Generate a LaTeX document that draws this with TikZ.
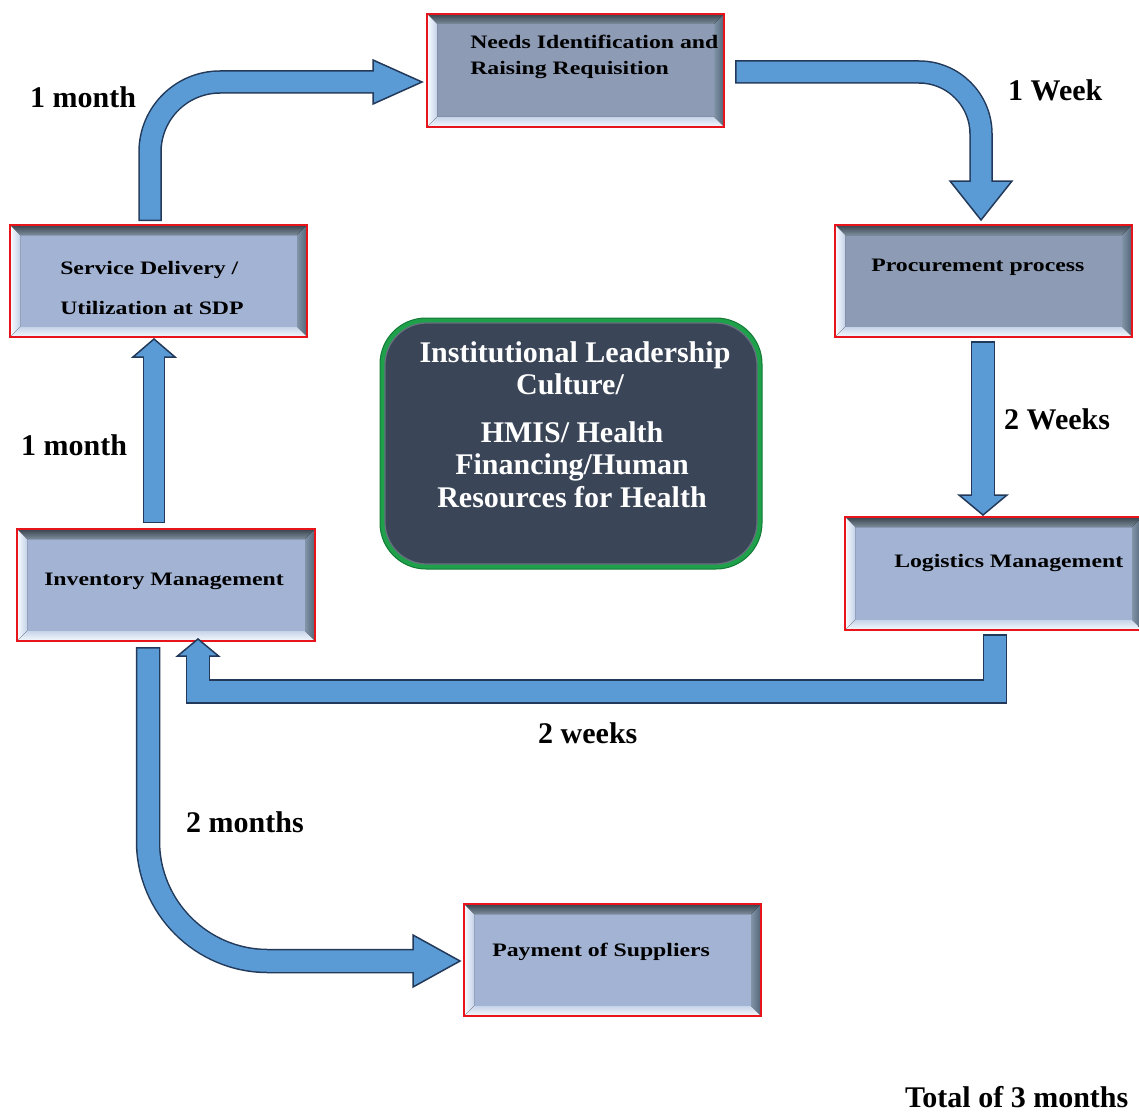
\documentclass[tikz,border=0pt]{standalone}
\usepackage{fontspec}
\setmainfont{Liberation Serif}
\usetikzlibrary{calc}
\definecolor{arrfill}{HTML}{5B9BD5}
\definecolor{arrline}{HTML}{22395A}
\definecolor{boxdark}{HTML}{8D9BB5}
\definecolor{boxlight}{HTML}{A3B3D3}
\definecolor{boxred}{HTML}{E8141B}
\definecolor{ctrfill}{HTML}{3A4558}
\definecolor{ctrgreen}{HTML}{1FA04A}
\definecolor{ctrgreendk}{HTML}{137A35}
\definecolor{ctrrim}{HTML}{66707F}
\definecolor{bvtopA}{HTML}{3E4B55}
\definecolor{bvtopB}{HTML}{7D8C9B}
\definecolor{bvleftA}{HTML}{F5F9FE}
\definecolor{bvleftB}{HTML}{C3D2E7}
\definecolor{bvrightA}{HTML}{8294A8}
\definecolor{bvrightB}{HTML}{56697B}
\definecolor{bvbotA}{HTML}{C6D4E9}
\definecolor{bvbotB}{HTML}{F2F6FB}

\newcommand\bvbox[6]{%
  \node[rbox, fill=#6, minimum width={#4-#2}, minimum height={#5-#3}] (#1) at ({(#2+#4)/2},{(#3+#5)/2}) {};
  \fill[top color=bvtopA, bottom color=bvtopB]
    ($(#1.north west)+(1,1)$) -- ($(#1.north east)+(-1,1)$) -- ($(#1.north east)+(-10,10)$) -- ($(#1.north west)+(10,10)$) -- cycle;
  \fill[left color=bvleftA, right color=bvleftB]
    ($(#1.north west)+(1,1)$) -- ($(#1.north west)+(10,10)$) -- ($(#1.south west)+(10,-10)$) -- ($(#1.south west)+(1,-1)$) -- cycle;
  \fill[left color=bvrightA, right color=bvrightB]
    ($(#1.north east)+(-1,1)$) -- ($(#1.north east)+(-10,10)$) -- ($(#1.south east)+(-10,-10)$) -- ($(#1.south east)+(-1,-1)$) -- cycle;
  \fill[top color=bvbotA, bottom color=bvbotB]
    ($(#1.south west)+(1,-1)$) -- ($(#1.south west)+(10,-10)$) -- ($(#1.south east)+(-10,-10)$) -- ($(#1.south east)+(-1,-1)$) -- cycle;
  \draw[draw=boxred, line width=1.5pt] (#1.north west) rectangle (#1.south east);
}

\begin{document}
\begin{tikzpicture}[x=1pt,y=-1pt,
  rbox/.style={draw=boxred, line width=1.5pt, inner sep=0pt, outer sep=0pt, rectangle},
  btext/.style={anchor=base west, inner sep=0pt, font=\bfseries\fontsize{19}{22}\selectfont, xscale=1.25},
  lbl/.style={anchor=base west, inner sep=0pt, font=\bfseries\fontsize{30}{32}\selectfont},
  ctext/.style={anchor=base, inner sep=0pt, text=white, font=\bfseries\fontsize{30}{32}\selectfont},
  shout/.style={draw=arrline, line width=#1, line join=miter},
  shin/.style={draw=arrfill, line width=#1, line join=miter, shorten <=1.5pt, shorten >=-2pt},
  ahead/.style={fill=arrfill, draw=arrline, line width=1.5pt, line join=miter},
]
\useasboundingbox (0,0) rectangle (1139,1113);
\clip (0,0) rectangle (1139,1113);
\fill[white] (0,0) rectangle (1139,1113);

% boxes
\bvbox{needs}{427}{14}{724}{127}{boxdark}
\bvbox{proc}{835}{225}{1132}{337}{boxdark}
\bvbox{sd}{10}{225}{307}{337}{boxlight}
\bvbox{log}{845}{517}{1142}{630}{boxlight}
\bvbox{inv}{17}{529}{315}{641}{boxlight}
\bvbox{pay}{464}{904}{761}{1016}{boxlight}

\node[btext] (needsA) at (470,49) {Needs Identification and};
\node[btext] (needsB) at (470,75) {Raising Requisition};
\node[btext] (procA) at (871,271) {Procurement process};
\node[btext] (sdA) at (60,274) {Service Delivery /};
\node[btext] (sdB) at (60,314) {Utilization at SDP};
\node[btext] (logA) at (894,567) {Logistics Management};
\node[btext] (invA) at (44,585) {Inventory Management};
\node[btext] (payA) at (492,956) {Payment of Suppliers};

% centre box
\node[draw=ctrgreendk, fill=ctrgreen, line width=1pt, rounded corners=46pt, inner sep=0pt, outer sep=0pt,
      minimum width=382, minimum height=251] (ctr) at (571,443.5) {};
\draw[fill=ctrfill, draw=ctrrim, line width=1.2pt, rounded corners=42pt]
  ($(ctr.north west)+(5,5)$) rectangle ($(ctr.south east)+(-5,-5)$);
\node[ctext] (c1) at (575,362) {Institutional Leadership};
\node[ctext] (c2) at (570,394) {Culture/};
\node[ctext] (c3) at (572,442) {HMIS/ Health};
\node[ctext] (c4) at (572,474) {Financing/Human};
\node[ctext] (c5) at (572,507) {Resources for Health};

% A1: service delivery -> needs
\coordinate (a1s) at ($(sd.north west)+(140,-4)$);
\coordinate (a1t) at ($(needs.north west)+(-5,68)$);
\coordinate (a1b) at ($(a1t)+(-49,0)$);
\draw[shout=23.5pt, rounded corners=70pt] (a1s) |- (a1b);
\draw[ahead] ($(a1b)+(0,-22)$) -- (a1t) -- ($(a1b)+(0,22)$) -- cycle;
\draw[shin=20.5pt, rounded corners=70pt] (a1s) |- (a1b);

% A2: needs -> procurement
\coordinate (a2s) at ($(needs.north east)+(11,58)$);
\coordinate (a2t) at ($(proc.north west)+(146,-5)$);
\coordinate (a2b) at ($(a2t)+(0,-39)$);
\draw[shout=23.5pt, rounded corners=62pt] (a2s) -| (a2b);
\draw[ahead] ($(a2b)+(-31,0)$) -- (a2t) -- ($(a2b)+(31,0)$) -- cycle;
\draw[shin=20.5pt, rounded corners=62pt] (a2s) -| (a2b);

% A3: procurement -> logistics
\coordinate (a3s) at ($(proc.south west)+(148,4)$);
\coordinate (a3t) at ($(log.north west)+(138,-2)$);
\coordinate (a3b) at ($(a3t)+(0,-20)$);
\draw[shout=24.5pt] (a3s) -- (a3b);
\draw[ahead] ($(a3b)+(-24,0)$) -- (a3t) -- ($(a3b)+(24,0)$) -- cycle;
\draw[shin=21.5pt] (a3s) -- (a3b);

% A4: logistics -> inventory
\coordinate (a4s) at ($(log.south west)+(150,4)$);
\coordinate (a4t) at ($(inv.south west)+(181,-2)$);
\coordinate (a4b) at ($(a4t)+(0,17)$);
\coordinate (a4h) at (600,691.5);
\draw[shout=24.5pt] (a4s) |- (a4h) -| (a4b);
\draw[ahead] ($(a4b)+(-20.5,0)$) -- (a4t) -- ($(a4b)+(20.5,0)$) -- cycle;
\draw[shin=21.5pt] (a4s) |- (a4h) -| (a4b);

% A5: inventory -> payment
\coordinate (a5s) at ($(inv.south west)+(131,6)$);
\coordinate (a5t) at ($(pay.west)+(-4,1)$);
\coordinate (a5b) at ($(a5t)+(-47,0)$);
\draw[shout=24.5pt, rounded corners=120pt] (a5s) |- (a5b);
\draw[ahead] ($(a5b)+(0,-26)$) -- (a5t) -- ($(a5b)+(0,26)$) -- cycle;
\draw[shin=21.5pt, rounded corners=120pt] (a5s) |- (a5b);

% A6: inventory -> service delivery
\coordinate (a6s) at ($(inv.north west)+(137,-6)$);
\coordinate (a6t) at ($(sd.south west)+(144,2)$);
\coordinate (a6b) at ($(a6t)+(0,18)$);
\draw[shout=22.5pt] (a6s) -- (a6b);
\draw[ahead] ($(a6b)+(-21,0)$) -- (a6t) -- ($(a6b)+(21,0)$) -- cycle;
\draw[shin=19.5pt] (a6s) -- (a6b);

% labels
\node[lbl] (l1) at (30,107) {1 month};
\node[lbl] (l2) at (1008,100) {1 Week};
\node[lbl] (l3) at (1004,429) {2 Weeks};
\node[lbl] (l4) at (21,455) {1 month};
\node[lbl] (l5) at (538,743) {2 weeks};
\node[lbl] (l6) at (186,832) {2 months};
\node[lbl] (l7) at (905,1107) {Total of 3 months};
\end{tikzpicture}
\end{document}
